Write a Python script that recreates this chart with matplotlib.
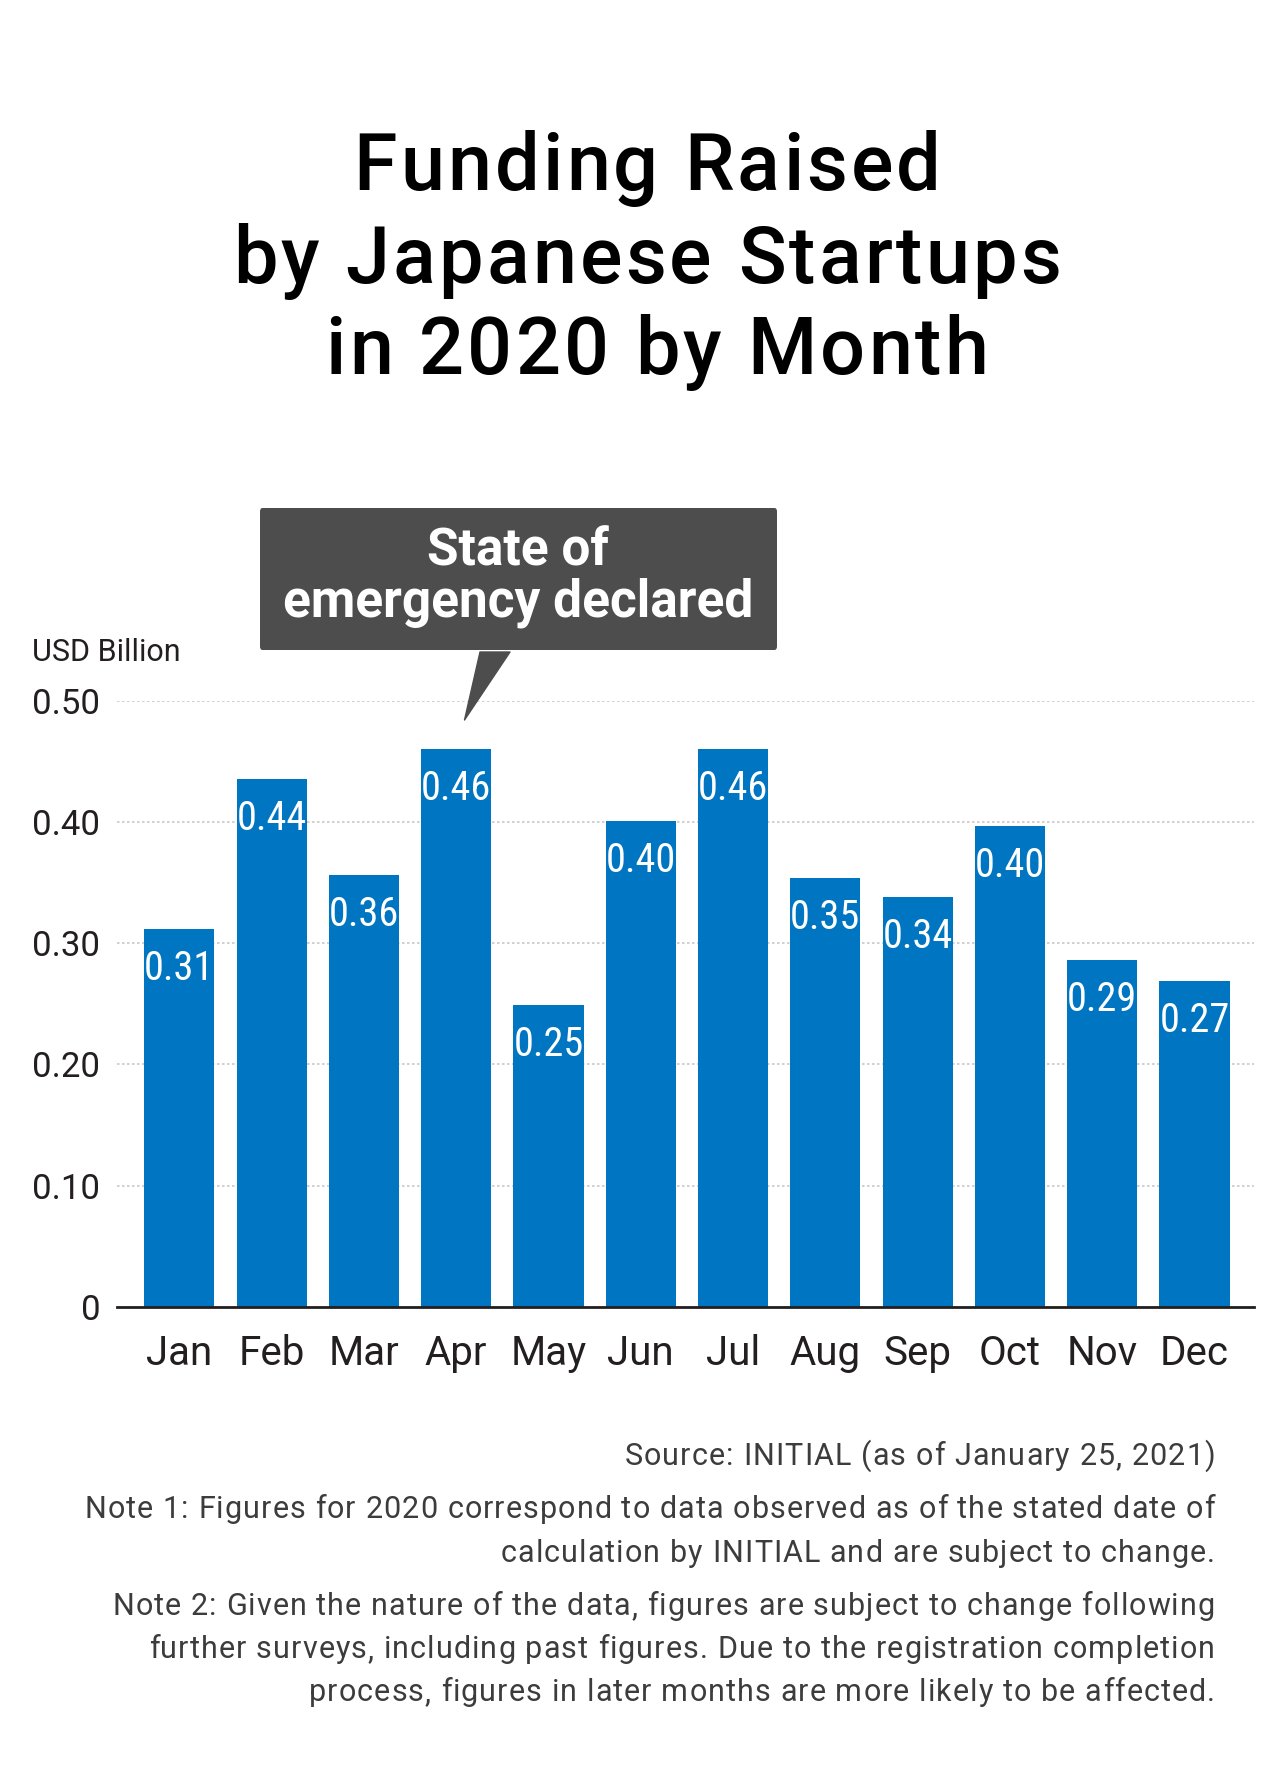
import matplotlib
matplotlib.use("Agg")
import matplotlib.pyplot as plt
import matplotlib.transforms as mtransforms
from matplotlib.font_manager import FontProperties
from matplotlib.patches import FancyBboxPatch, Polygon

# ================= DATA =================
months = ["Jan", "Feb", "Mar", "Apr", "May", "Jun",
          "Jul", "Aug", "Sep", "Oct", "Nov", "Dec"]
funding = [0.312, 0.436, 0.356, 0.460, 0.249, 0.401,
           0.460, 0.354, 0.338, 0.397, 0.286, 0.269]
yticks = [0, 0.1, 0.2, 0.3, 0.4, 0.5]
ytick_labels = ["0", "0.10", "0.20", "0.30", "0.40", "0.50"]

title_lines = ["Funding Raised", "by Japanese Startups", "in 2020 by Month"]
callout_lines = ["State of", "emergency declared"]
unit_label = "USD Billion"
source = "Source: INITIAL (as of January 25, 2021)"
note1 = ["Note 1: Figures for 2020 correspond to data observed as of the stated date of",
         "calculation by INITIAL and are subject to change."]
note2 = ["Note 2: Given the nature of the data, figures are subject to change following",
         "further surveys, including past figures. Due to the registration completion",
         "process, figures in later months are more likely to be affected."]

BLUE = "#0075c1"
DARK = "#231f20"
GREY_BOX = "#4d4d4d"

W, H = 1281, 1775
REG = ["Roboto", "DejaVu Sans"]
COND = ["Roboto Condensed", "Liberation Sans Narrow", "DejaVu Sans"]


def fx(x):
    return x / W


def fy(y):
    return 1 - y / H


fig = plt.figure(figsize=(W / 100, H / 100), dpi=100)
fig.patch.set_facecolor("white")
renderer = fig.canvas.get_renderer()


# ================= LETTER-SPACED TEXT =================
def char_advance(c, fp):
    w1, _, _ = renderer.get_text_width_height_descent("|" + c + "|", fp, ismath=False)
    w0, _, _ = renderer.get_text_width_height_descent("||", fp, ismath=False)
    return w1 - w0


def tracked_text(x, base, s, tracking, ha="center", **kw):
    fp = FontProperties(family=kw.get("family"), size=kw.get("fontsize"),
                        weight=kw.get("fontweight", "normal"))
    adv = [char_advance(c, fp) for c in s]
    total = sum(adv) + tracking * (len(s) - 1)
    if ha == "center":
        pos = x - total / 2
    elif ha == "right":
        pos = x - total
    else:
        pos = x
    for c, a in zip(s, adv):
        if c != " ":
            fig.text(fx(pos), fy(base), c, ha="left", va="baseline", **kw)
        pos += a + tracking


# axes: left 117px, right 1254px, zero at 1306.7px, 0.5 at 701px
ax = fig.add_axes([fx(117), fy(1306.7), (1254 - 117) / W, (1306.7 - 701) / H])
x = range(len(months))
ax.bar(x, funding, width=0.76, color=BLUE, zorder=3)
ax.set_xlim(-0.675, 11.645)
ax.set_ylim(0, 0.5)

ax.set_yticks(yticks, ytick_labels)
ax.set_xticks([])
ax.tick_params(axis="y", length=0, pad=12, labelsize=25, labelcolor=DARK)
for lab in ax.get_yticklabels():
    lab.set_family(REG)
ax.yaxis.grid(True, color="#c8c8c8", linestyle=(0, (1.5, 1.5)), linewidth=1.2, zorder=0)
for s in ["top", "right", "left"]:
    ax.spines[s].set_visible(False)
ax.spines["bottom"].set_color(DARK)
ax.spines["bottom"].set_linewidth(2)
ax.spines["bottom"].set_zorder(4)

# value labels inside bars
lab_tr = mtransforms.offset_copy(ax.transData, fig=fig, y=-51, units="dots")
for i, v in zip(x, funding):
    ax.text(i, v, f"{v:.2f}", transform=lab_tr, ha="center", va="baseline",
            color="white", fontsize=29, family=COND, zorder=5)

# month labels
xt = ax.get_xaxis_transform()
for i, m in zip(x, months):
    ax.text(i, -(1365 - 1306.7) / (1306.7 - 701), m, transform=xt, ha="center",
            va="baseline", fontsize=29, color=DARK, family=REG)

# title
for line, cx, base in zip(title_lines, [647, 647, 657], [190, 282.7, 374]):
    tracked_text(cx, base, line, 3.2, ha="center", fontsize=57,
                 fontweight="medium", color="black", family=REG)

# unit label
fig.text(fx(32), fy(660.7), unit_label, ha="left", va="baseline", fontsize=22,
         color=DARK, family=REG)

# callout box
box = FancyBboxPatch((fx(260), fy(650)), fx(777) - fx(260), fy(508) - fy(650),
                     boxstyle="round,pad=0,rounding_size=0.002",
                     transform=fig.transFigure, facecolor=GREY_BOX, edgecolor="none")
fig.patches.append(box)
pointer = Polygon([(fx(480), fy(652)), (fx(510), fy(652)), (fx(464.5), fy(720))],
                  closed=True, transform=fig.transFigure, facecolor=GREY_BOX,
                  edgecolor=GREY_BOX, linewidth=1, joinstyle="round")
fig.patches.append(pointer)
for line, base in zip(callout_lines, [565, 616.7]):
    fig.text(fx(518), fy(base), line, ha="center", va="baseline", fontsize=37,
             fontweight="bold", color="white", family=REG)

# notes
note_kw = dict(fontsize=22, color="#3c3c3c", family=REG, fontweight="normal")
tracked_text(1215, 1465, source, 1.08, ha="right", **note_kw)
for line, base in zip(note1, [1518, 1562]):
    tracked_text(1215, base, line, 1.08, ha="right", **note_kw)
for line, base in zip(note2, [1615, 1658, 1701]):
    tracked_text(1215, base, line, 1.08, ha="right", **note_kw)

fig.savefig("out.png", dpi=100, facecolor="white")
